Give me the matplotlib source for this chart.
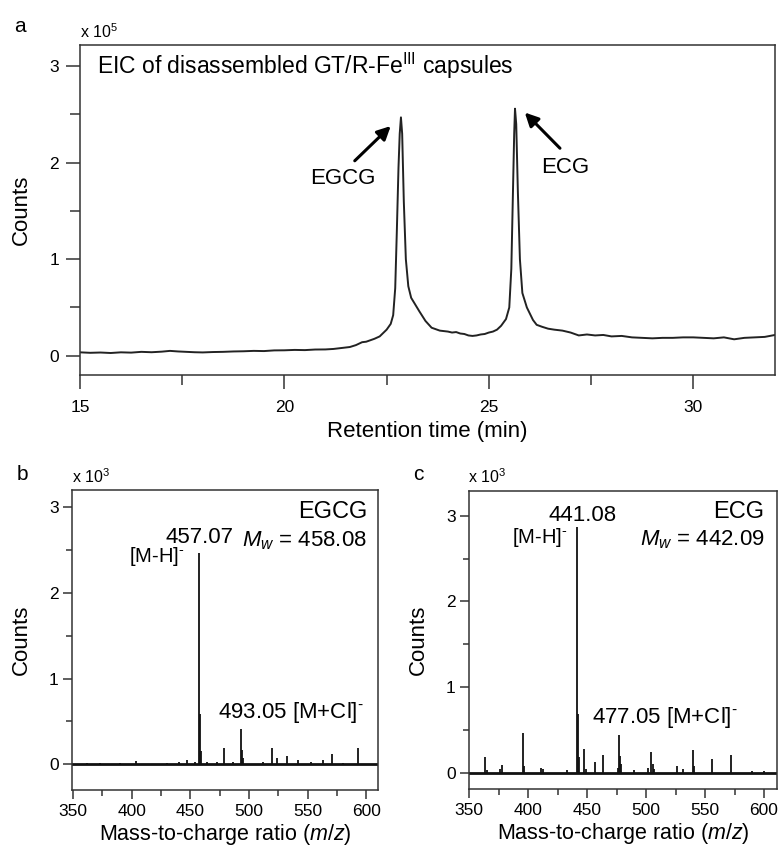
import matplotlib
matplotlib.use("Agg")
import matplotlib.pyplot as plt
from matplotlib.ticker import MultipleLocator

plt.rcParams['font.family'] = ['Liberation Sans', 'DejaVu Sans']
plt.rcParams['mathtext.fontset'] = 'custom'
plt.rcParams['mathtext.rm'] = 'Liberation Sans'
plt.rcParams['mathtext.it'] = 'Liberation Sans:italic'
plt.rcParams['axes.linewidth'] = 1.1
plt.rcParams['axes.edgecolor'] = '#333333'

# EIC trace, retention time (min) vs counts (x 1e5)
rt = [15.0, 15.25, 15.5, 15.75, 16.0, 16.25, 16.5, 16.75, 17.0, 17.2, 17.4,
      17.6, 17.8, 18.0, 18.25, 18.5, 18.75, 19.0, 19.25, 19.5, 19.75, 20.0,
      20.25, 20.5, 20.75, 21.0, 21.2, 21.4, 21.6, 21.75, 21.9, 22.0, 22.1,
      22.2, 22.33, 22.5, 22.6, 22.66, 22.71, 22.75, 22.79, 22.82, 22.85,
      22.88, 22.92, 22.97, 23.03, 23.1, 23.2, 23.3, 23.45, 23.6, 23.8, 24.0,
      24.1, 24.2, 24.3, 24.4, 24.5, 24.6, 24.7, 24.8, 24.9, 25.0, 25.1, 25.2,
      25.3, 25.42, 25.5, 25.55, 25.59, 25.62, 25.64, 25.67, 25.71, 25.76,
      25.82, 25.93, 26.08, 26.17, 26.3, 26.45, 26.6, 26.8, 27.0, 27.2, 27.4,
      27.6, 27.8, 28.0, 28.25, 28.5, 28.75, 29.0, 29.25, 29.5, 29.75, 30.0,
      30.25, 30.5, 30.75, 31.0, 31.25, 31.5, 31.75, 32.0]
eic = [0.035, 0.03, 0.033, 0.028, 0.035, 0.032, 0.04, 0.036, 0.042, 0.05,
       0.044, 0.04, 0.036, 0.034, 0.038, 0.04, 0.044, 0.046, 0.05, 0.048,
       0.055, 0.056, 0.06, 0.058, 0.064, 0.065, 0.07, 0.08, 0.09, 0.11, 0.14,
       0.145, 0.16, 0.175, 0.2, 0.27, 0.33, 0.42, 0.7, 1.3, 1.95, 2.3, 2.47,
       2.3, 1.6, 1.0, 0.72, 0.6, 0.53, 0.46, 0.36, 0.29, 0.26, 0.25, 0.24,
       0.245, 0.23, 0.225, 0.21, 0.205, 0.21, 0.22, 0.225, 0.24, 0.25, 0.27,
       0.31, 0.38, 0.5, 0.9, 1.7, 2.3, 2.56, 2.4, 1.7, 1.0, 0.65, 0.5, 0.37,
       0.32, 0.3, 0.28, 0.27, 0.26, 0.24, 0.21, 0.22, 0.21, 0.215, 0.2,
       0.205, 0.19, 0.185, 0.18, 0.185, 0.185, 0.19, 0.19, 0.185, 0.18, 0.19,
       0.17, 0.185, 0.19, 0.195, 0.215]

# MS of EGCG fraction, m/z and counts (x 1e3)
mz_egcg = [362, 373, 390, 404, 430, 440, 447, 454, 457.07, 458.1, 459.1, 464,
           473, 478.7, 486, 493.05, 494.1, 495.1, 512, 519.4, 524, 532.4,
           541.8, 553, 563, 570.5, 580, 592.9]
int_egcg = [0.02, 0.02, 0.02, 0.04, 0.02, 0.03, 0.05, 0.03, 2.46, 0.59, 0.16,
            0.03, 0.03, 0.19, 0.03, 0.41, 0.17, 0.07, 0.03, 0.19, 0.07, 0.1,
            0.05, 0.03, 0.05, 0.12, 0.02, 0.19]

# MS of ECG fraction
mz_ecg = [363.4, 365, 376, 377.6, 395.5, 396.5, 411, 413, 433, 441.08, 442.1,
          443.1, 447.2, 449, 457.1, 463.4, 476, 477.05, 478.1, 479, 490, 502,
          504.5, 505.5, 507, 526, 531, 539.5, 540.5, 555.7, 571.6, 590, 600]
int_ecg = [0.18, 0.03, 0.04, 0.09, 0.46, 0.08, 0.05, 0.04, 0.03, 2.87, 0.69,
           0.18, 0.28, 0.04, 0.13, 0.21, 0.06, 0.44, 0.19, 0.1, 0.03, 0.05,
           0.24, 0.1, 0.04, 0.08, 0.04, 0.26, 0.08, 0.16, 0.21, 0.02, 0.02]

fig = plt.figure(figsize=(7.8, 8.49), dpi=100)
ax_a = fig.add_axes([0.1026, 0.5583, 0.891, 0.3887])
ax_b = fig.add_axes([0.0923, 0.0695, 0.3923, 0.3534])
ax_c = fig.add_axes([0.6013, 0.0707, 0.3949, 0.351])

for ax in (ax_a, ax_b, ax_c):
    ax.yaxis.set_major_locator(MultipleLocator(1))
    ax.yaxis.set_minor_locator(MultipleLocator(0.5))
    ax.tick_params(which='both', width=1.1, color='#333333')
    ax.tick_params(which='major', labelsize=12.5)
    ax.set_ylabel("Counts", fontsize=16)

# (a) chromatogram
ax_a.tick_params(which='major', length=10)
ax_a.tick_params(which='minor', length=7)
ax_a.tick_params(axis='y', pad=5)
ax_a.plot(rt, eic, color='#222222', lw=1.4)
ax_a.set_xlim(15, 32)
ax_a.set_ylim(-0.2, 3.22)
ax_a.xaxis.set_major_locator(MultipleLocator(5))
ax_a.xaxis.set_minor_locator(MultipleLocator(2.5))
ax_a.tick_params(axis='x', pad=8)
ax_a.set_xlabel("Retention time (min)", fontsize=16)
ax_a.xaxis.set_label_coords(0.5, -0.14)
ax_a.yaxis.set_label_coords(-0.069, 0.5)
ax_a.text(15.42, 3.0, r"EIC of disassembled GT/R-Fe$^{\rm III}$ capsules",
          fontsize=16.5, va='center', ha='left')
arrow = dict(arrowstyle='-|>', lw=2.2, color='black', mutation_scale=20,
             shrinkA=0, shrinkB=0)
ax_a.annotate("", xy=(22.6, 2.38), xytext=(21.72, 2.02), arrowprops=arrow)
ax_a.text(21.43, 1.84, "EGCG", fontsize=16, ha='center', va='center')
ax_a.annotate("", xy=(25.88, 2.52), xytext=(26.74, 2.15), arrowprops=arrow)
ax_a.text(26.86, 1.95, "ECG", fontsize=16, ha='center', va='center')

# (b), (c) mass spectra
spectra = [
    (ax_b, mz_egcg, int_egcg, (349, 610), (-0.3, 3.2), "EGCG", "458.08",
     (458.0, 2.65, "457.07"), (445.2, 2.42), (473.4, 0.6, "493.05"),
     (600.6, 2.94, 2.61)),
    (ax_c, mz_ecg, int_ecg, (350, 611), (-0.19, 3.29), "ECG", "442.09",
     (446.1, 3.0, "441.08"), (433.3, 2.75), (454.6, 0.65, "477.05"),
     (600.3, 3.04, 2.72)),
]
for (ax, mz, inten, xl, yl, name, mw, top, mh, mcl, lab) in spectra:
    ax.tick_params(which='major', length=6.5)
    ax.tick_params(which='minor', length=4)
    ax.tick_params(axis='y', pad=3)
    ax.tick_params(axis='x', pad=3.5)
    ax.axhline(0, color='#111111', lw=2.0)
    ax.vlines(mz, 0, inten, color='#111111', lw=1.3)
    ax.set_xlim(*xl)
    ax.set_ylim(*yl)
    ax.xaxis.set_major_locator(MultipleLocator(50))
    ax.xaxis.set_minor_locator(MultipleLocator(25))
    ax.set_xlabel(r"Mass-to-charge ratio ($m/z$)", fontsize=15.5)
    ax.xaxis.set_label_coords(0.5, -0.108)
    ax.yaxis.set_label_coords(-0.13, 0.5)
    ax.text(lab[0], lab[1], name, fontsize=17, ha='right', va='center')
    ax.text(lab[0], lab[2], r"$M_w$ = " + mw, fontsize=16, ha='right',
            va='center')
    ax.text(top[0], top[1], top[2], fontsize=16, ha='center', va='center')
    ax.text(mh[0], mh[1], r"[M-H]$^{\text{-}}$", fontsize=14.5, ha='right',
            va='center')
    ax.text(mcl[0], mcl[1], mcl[2] + r" [M+Cl]$^{\text{-}}$", fontsize=16,
            ha='left', va='center')

# panel letters and axis multipliers
fig.text(20 / 780, 1 - 27 / 849, "a", fontsize=15, ha='center', va='center')
fig.text(22 / 780, 1 - 475 / 849, "b", fontsize=15, ha='center', va='center')
fig.text(418 / 780, 1 - 475 / 849, "c", fontsize=15, ha='center', va='center')
fig.text(80 / 780, 1 - 32 / 849, r"x 10$^{5}$", fontsize=11.5, va='center')
fig.text(72 / 780, 1 - 477 / 849, r"x 10$^{3}$", fontsize=11.5, va='center')
fig.text(468 / 780, 1 - 477 / 849, r"x 10$^{3}$", fontsize=11.5, va='center')

fig.savefig("out.png", dpi=100)
